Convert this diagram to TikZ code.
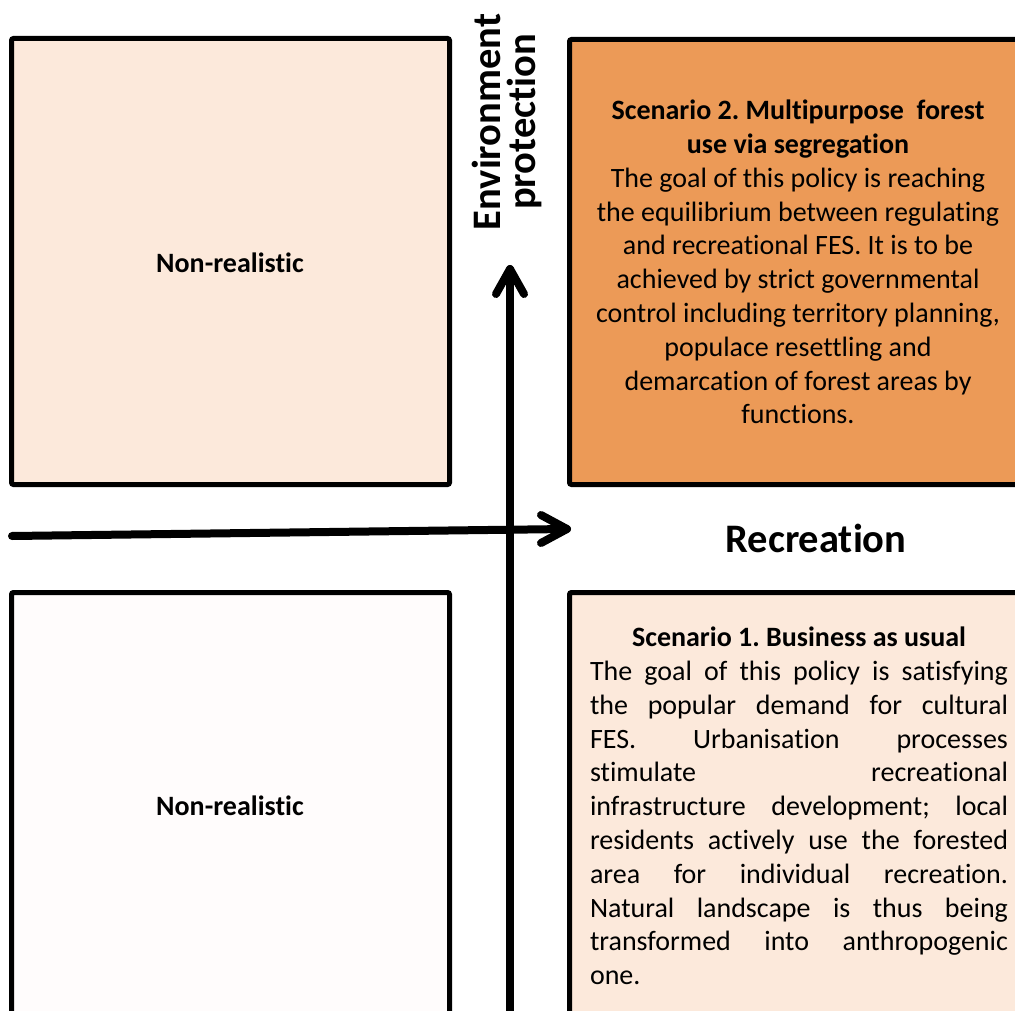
\documentclass[tikz,border=0pt]{standalone}
\usepackage{fontspec}
\setmainfont{Carlito}[Ligatures=NoCommon]
\definecolor{peach}{HTML}{FCE9DB}
\definecolor{orangefill}{HTML}{EC9A57}
\definecolor{paleone}{HTML}{FFFCFC}
\tikzset{
  quad/.style={draw=black, line width=5pt, rounded corners=2pt},
  axis/.style={line width=8pt, line cap=round, line join=round},
  body/.style={font=\fontsize{28}{33.8}\selectfont, align=center, inner sep=0pt},
  label/.style={font=\bfseries\fontsize{28}{30}\selectfont, inner sep=0pt},
  axislabel/.style={font=\bfseries\fontsize{40.5}{35}\selectfont, inner sep=0pt, align=center}
}
\newlength{\jw}
\setlength{\jw}{418pt}
\newcommand{\jl}[1]{\makebox[\jw][s]{#1}}
\begin{document}
\frenchspacing
\begin{tikzpicture}[x=1pt,y=-1pt]
\useasboundingbox (0,0) rectangle (1015,1011);
\clip (0,0) rectangle (1015,1011);
\fill[white] (0,0) rectangle (1015,1011);
% boxes
\draw[quad, fill=peach] (11.5,38.5) rectangle (449.5,484.5);
\draw[quad, fill=orangefill] (569.5,39.5) rectangle (1030,484.5);
\draw[quad, fill=paleone] (11.5,592.5) rectangle (449.5,1030);
\draw[quad, fill=peach] (569.5,592.5) rectangle (1030,1030);
% axes
\coordinate (hstart) at (12,536);
\coordinate (htip) at (567,529);
\coordinate (hb1) at (541,515);
\coordinate (hb2) at (541,543);
\draw[axis] (hstart) -- (htip);
\draw[axis] (hb1) -- (htip) -- (hb2);
\coordinate (vstart) at (510,1020);
\coordinate (vtip) at (510,269);
\coordinate (vb1) at (496,294);
\coordinate (vb2) at (524,294);
\draw[axis] (vstart) -- (vtip);
\draw[axis] (vb1) -- (vtip) -- (vb2);
% labels
\node[label] (nr1) at (230,263) {Non-realistic};
\node[label] (nr2) at (230,806) {Non-realistic};
\node[axislabel, rotate=90] (env) at (507,122) {Environment\\protection};
\node[axislabel] (rec) at (816,538) {Recreation};
% scenario 2
\node[body] (s2) at (798,262) {{\bfseries Scenario 2. Multipurpose\ \ forest}\\
{\bfseries use via segregation}\\
The goal of this policy is reaching\\
the equilibrium between regulating\\
and recreational FES. It is to be\\
achieved by strict governmental\\
control including territory planning,\\
populace resettling and\\
demarcation of forest areas by\\
functions.};
% scenario 1
\node[body] (s1) at (799,806) {{\bfseries Scenario 1. Business as usual}\\
\jl{The goal of this policy is satisfying}\\
\jl{the popular demand for cultural}\\
\jl{FES. Urbanisation processes}\\
\jl{stimulate recreational}\\
\jl{infrastructure development; local}\\
\jl{residents actively use the forested}\\
\jl{area for individual recreation.}\\
\jl{Natural landscape is thus being}\\
\jl{transformed into anthropogenic}\\
\makebox[\jw][l]{one.}};
\end{tikzpicture}
\end{document}
